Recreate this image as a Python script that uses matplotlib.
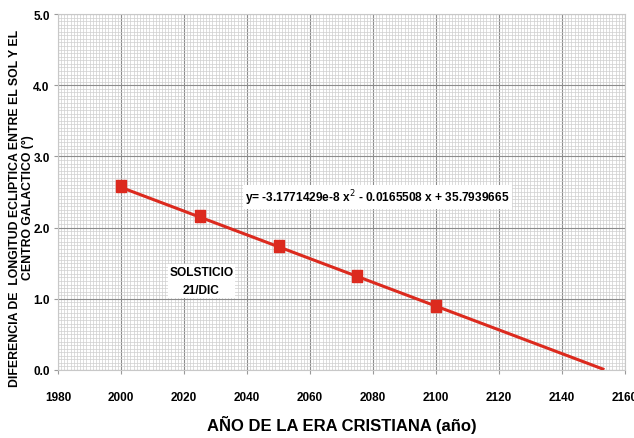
import matplotlib
matplotlib.use("Agg")
import numpy as np
import matplotlib.pyplot as plt
from matplotlib.ticker import MultipleLocator

# datos
anios = [2000, 2025, 2050, 2075, 2100]
dif_long = [2.58, 2.17, 1.74, 1.32, 0.90]

# coeficientes de la tendencia polinomica (del rotulo)
a2, a1, a0 = -3.1771429e-8, -0.0165508, 35.7939665
x_fin = 2153

plt.rcParams["font.family"] = ["Liberation Sans", "DejaVu Sans"]

fig = plt.figure(figsize=(6.34, 4.39), dpi=100)
ax = fig.add_axes([0.0915, 0.1549, 0.8943, 0.8109])

xx = np.linspace(anios[0], x_fin, 200)
yy = a2 * xx**2 + a1 * xx + a0
ax.plot(xx, yy, color="#dc2a1e", lw=2.2, zorder=3)
rect = [(-0.4, -0.5), (0.4, -0.5), (0.4, 0.5), (-0.4, 0.5), (-0.4, -0.5)]
ax.plot(anios, dif_long, ls="none", marker=rect, ms=9, color="#dc2a1e", zorder=4)

ax.set_xlim(1980, 2160)
ax.set_ylim(0, 5)
ax.xaxis.set_major_locator(MultipleLocator(20))
ax.xaxis.set_minor_locator(MultipleLocator(1))
ax.yaxis.set_major_locator(MultipleLocator(1))
ax.yaxis.set_minor_locator(MultipleLocator(0.05))
ax.yaxis.set_major_formatter(plt.FuncFormatter(lambda v, p: "%.1f" % v))

ax.grid(which="major", color="#8c8c8c", lw=0.8)
ax.grid(which="minor", color="#cfcfcf", lw=0.5)
ax.set_axisbelow(True)
for s in ax.spines.values():
    s.set_color("#c8c8c8")

ax.tick_params(which="major", length=3, color="#9a9a9a", labelsize=8.5)
ax.tick_params(which="minor", length=0)
for t in ax.get_xticklabels() + ax.get_yticklabels():
    t.set_fontweight("bold")
ax.tick_params(axis="x", pad=12)
ax.tick_params(axis="y", pad=3)

ax.set_xlabel("AÑO DE LA ERA CRISTIANA (año)", fontsize=12, fontweight="bold", labelpad=9)
ax.set_ylabel("DIFERENCIA DE  LONGITUD ECLIPTICA ENTRE EL SOL Y EL\nCENTRO GALACTICO (°)",
              fontsize=8.8, fontweight="bold", linespacing=1.1)
ax.yaxis.set_label_coords(-0.043, 0.458)

ax.text(2039.5, 2.43, "y= -3.1771429e-8 x$^2$ - 0.0165508 x + 35.7939665", fontsize=8.6,
        fontweight="bold", va="center", ha="left",
        bbox=dict(facecolor="white", edgecolor="none", pad=1.5), zorder=5)
ax.text(2025.5, 1.25, "SOLSTICIO\n21/DIC", fontsize=8.6, fontweight="bold", ha="center",
        va="center", linespacing=1.7,
        bbox=dict(facecolor="white", edgecolor="none", pad=1), zorder=5)

plt.savefig("out.png", dpi=100)
